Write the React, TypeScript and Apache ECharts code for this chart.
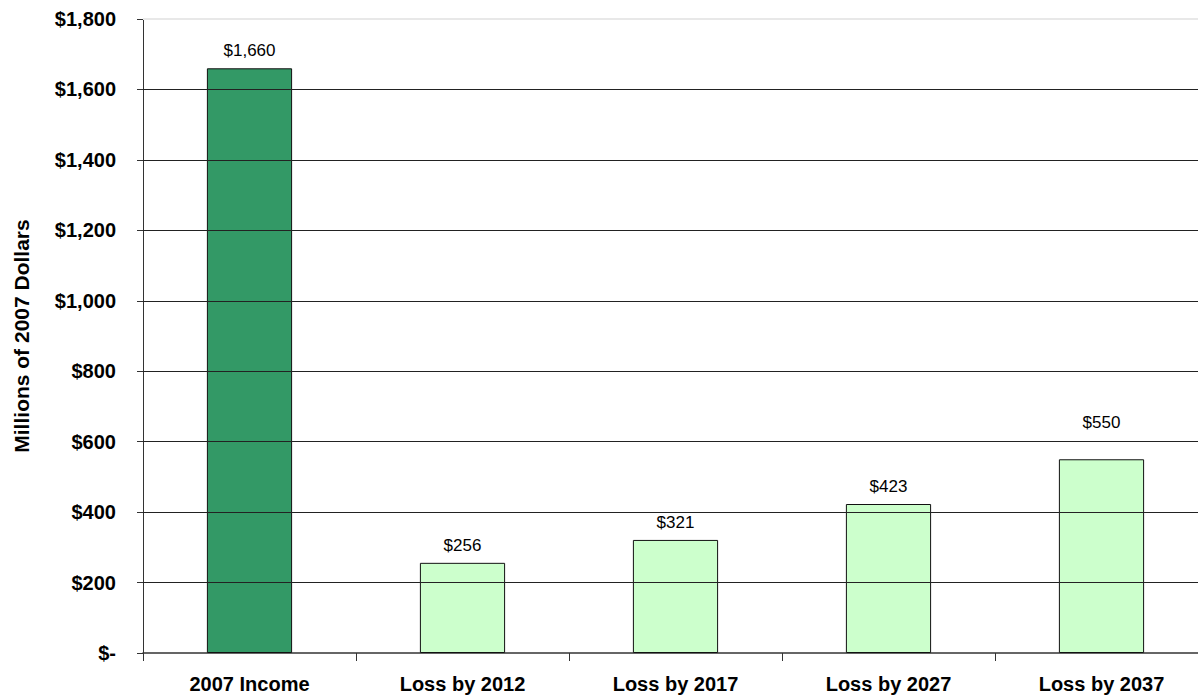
import React, { useEffect, useRef } from "react";
import * as echarts from "echarts";

const categories = ["2007 Income", "Loss by 2012", "Loss by 2017", "Loss by 2027", "Loss by 2037"];
const values = [1660, 256, 321, 423, 550];
const barColors = ["#339966", "#CCFFCC", "#CCFFCC", "#CCFFCC", "#CCFFCC"];
const labelDistances = [9, 9, 9, 9, 28];
const yAxisName = "Millions of 2007 Dollars";
const yMax = 1800;
const yInterval = 200;
const gridValues = [200, 400, 600, 800, 1000, 1200, 1400, 1600];

const FONT = "Arial, 'Liberation Sans', sans-serif";

const fmt = (v: number) => (v === 0 ? "$-" : "$" + v.toLocaleString("en-US"));

export default function App() {
  const ref = useRef<HTMLDivElement>(null);
  useEffect(() => {
    if (!ref.current) return;
    const chart = echarts.init(ref.current, undefined, { renderer: "svg" });
    chart.setOption({
      animation: false,
      backgroundColor: "#fff",
      grid: {
        left: 143,
        top: 19,
        bottom: 45,
        width: 1065,
        containLabel: false,
        outerBoundsMode: "none",
      },
      xAxis: {
        type: "category",
        data: categories,
        axisLine: { show: true, lineStyle: { color: "#333", width: 1.5 } },
        axisTick: { show: true, length: 8, lineStyle: { color: "#333" } },
        axisLabel: { color: "#000", fontFamily: FONT, fontWeight: "bold", fontSize: 20, margin: 21 },
      },
      yAxis: {
        type: "value",
        min: 0,
        max: yMax,
        interval: yInterval,
        name: yAxisName,
        nameLocation: "middle",
        nameGap: 111,
        nameTextStyle: { color: "#000", fontFamily: FONT, fontWeight: "bold", fontSize: 21 },
        axisLine: { show: true, lineStyle: { color: "#333", width: 1 } },
        axisTick: { show: true, length: 6, lineStyle: { color: "#333" } },
        axisLabel: {
          color: "#000",
          fontFamily: FONT,
          fontWeight: "bold",
          fontSize: 20,
          margin: 27,
          formatter: (v: number) => fmt(v),
        },
        splitLine: { show: false },
      },
      series: [
        {
          type: "bar",
          barWidth: "40%",
          clip: false,
          z: 3,
          data: values.map((v, i) => ({
            value: v,
            itemStyle: { color: barColors[i], borderColor: "#111", borderWidth: 1 },
            label: { distance: labelDistances[i] },
          })),
          label: {
            show: true,
            position: "top",
            color: "#000",
            fontFamily: FONT,
            fontSize: 17,
            formatter: (p: any) => fmt(p.value),
          },
        },
        {
          type: "line",
          data: [],
          silent: true,
          z: 1,
          markLine: {
            silent: true,
            symbol: "none",
            label: { show: false },
            data: [
              ...gridValues.map((g) => ({ yAxis: g, lineStyle: { color: "#222", width: 1, type: "solid" } })),
              { yAxis: yMax, lineStyle: { color: "#e8e8e8", width: 2, type: "solid" } },
            ],
          },
        },
      ],
    });
    return () => chart.dispose();
  }, []);
  return <div ref={ref} style={{ width: 1198, height: 698, position: "absolute", left: 0, top: 0 }} />;
}
